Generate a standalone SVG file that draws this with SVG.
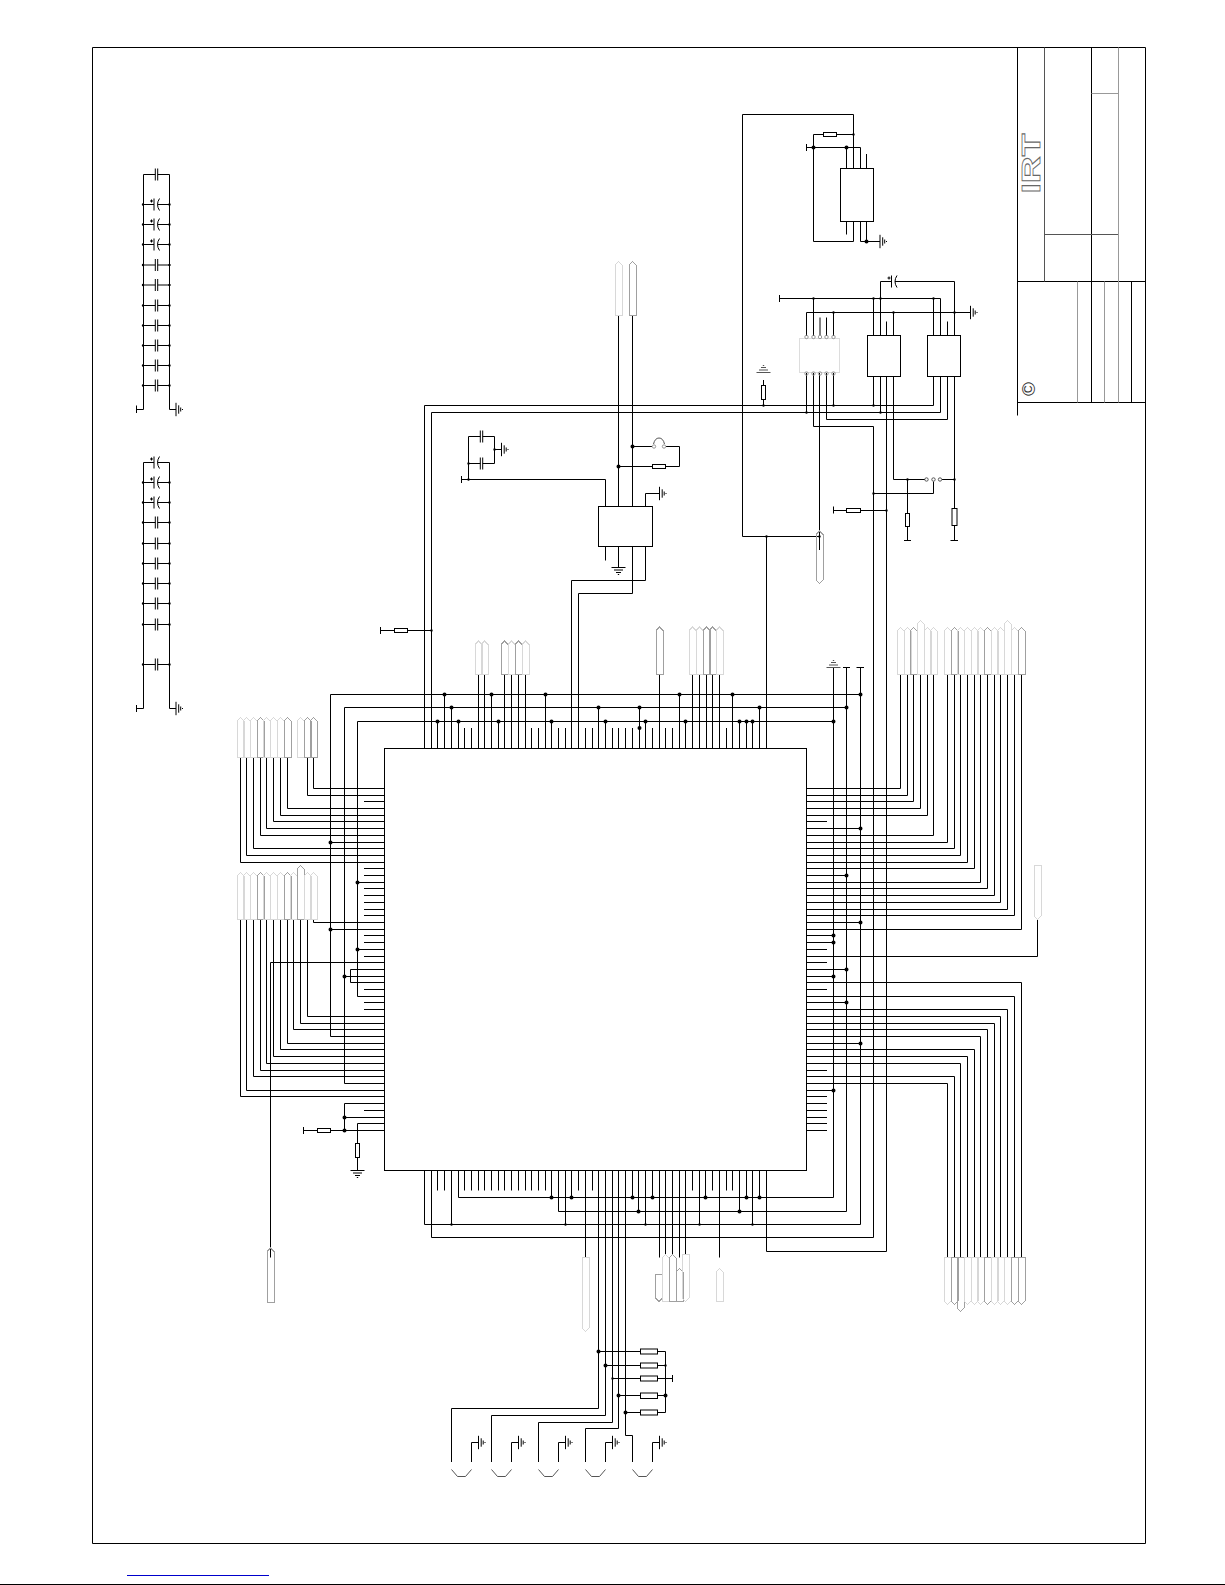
<svg xmlns="http://www.w3.org/2000/svg" width="1225" height="1585" viewBox="0 0 1225 1585">
<style>
.w,.s{fill:none;stroke:#000;stroke-width:1}
.g1{fill:none;stroke:#999;stroke-width:1}
.g2{fill:none;stroke:#555;stroke-width:1}
.r{fill:#fff;stroke:#000;stroke-width:1}
.c1{fill:none;stroke:#d8d8d8;stroke-width:1;shape-rendering:crispEdges}
.c2{fill:none;stroke:#a0a0a0;stroke-width:1;shape-rendering:crispEdges}
.big{fill:none;stroke:#000;stroke-width:4;stroke-linecap:round}
.sm{fill:none;stroke:#000;stroke-width:2.4;stroke-linecap:round}
.ic{fill:none;stroke:#000;stroke-width:1}
.ch{fill:none;stroke:#555;stroke-width:1}
</style>
<defs>
<path id="gs" class="s" d="M0-6.7V6.7M2.7-4.2V4.2M4.7-2V2M6.5-.5V.5"/>
<path id="gd" class="s" d="M-7 0H7M-4.5 2.5H4.5M-2.5 5H2.5M-.7 7H.7"/>
<path id="gu" class="g2" d="M-7 0H7M-4.5-2.5H4.5M-2.5-5H2.5M-.7-7H.7"/>
<path id="cp" class="s" d="M-13 0H-1.2M1.2 0H13M-1.2-6V6M1.2-6V6"/>
<path id="cpp" class="s" d="M-13 0H-2.5M1 0H13M-2.5-6V6M3-6Q-1 0 3 6M-6.5-3.5H-3.5M-5-5V-2"/>
<path id="p27" d="M-3.5 0V-23.5L0-27L3.5-23.5V0Z"/>
<path id="p33" d="M-3.5 0V-29.5L0-33L3.5-29.5V0Z"/>
<path id="p40" d="M-3.5 0V-36.5L0-40L3.5-36.5V0Z"/>
<path id="p47" d="M-3.5 0V-43.5L0-47L3.5-43.5V0Z"/>
<path id="p54" d="M-3.5 0V-50.5L0-54L3.5-50.5V0Z"/>
<path id="p74" d="M-3.5 0V-70.5L0-74L3.5-70.5V0Z"/>
<path id="chev" class="ch" d="M0 0L6 7H14L20 0"/>
</defs>

<path id="frame" class="w" d="M92.5 47.5H1145.5V1543.5H92.5Z"/>
<path class="w" d="M0 1584.5H1225"/>
<path d="M127 1575.5H269" fill="none" stroke="#0000cc" stroke-width="1"/>

<g id="title-block">
<path class="w" d="M1017.5 47.5V415.5M1017.5 281.5H1145.5M1017.5 402.5H1145.5M1091.5 47.5V402.5M1131.5 281.5V402.5"/>
<path class="g2" d="M1044.5 47.5V281.5M1044.5 234.5H1118.5"/>
<path class="g1" d="M1118.5 47.5V402.5M1091.5 93.5H1118.5M1077.5 281.5V402.5M1104.5 281.5V402.5"/>
<g opacity=".99">
<text transform="translate(1040,193.5) rotate(-90)" font-family="'Liberation Sans',sans-serif" font-weight="bold" font-size="25" textLength="60" lengthAdjust="spacingAndGlyphs" fill="#fff" stroke="#666" stroke-width=".8">IRT</text>
<text transform="translate(1028,389) rotate(-90)" y="6.5" text-anchor="middle" font-family="'Liberation Sans',sans-serif" font-size="19" fill="#333">©</text>
</g>
</g>

<g id="connectors">
<path class="w" d="M424.5 748.5V405.5H933.5V376.5M431.5 748.5V412.5H940.5V376.5M437.5 748.5V721.5M444.5 748.5V694.5M451.5 748.5V707.5M458.5 748.5V721.5M464.5 748.5V728M471.5 748.5V728M478.5 748.5V674M484.5 748.5V674M491.5 748.5V694.5M498.5 748.5V721.5M504.5 748.5V674M511.5 748.5V674M518.5 748.5V674M525.5 748.5V674M531.5 748.5V728M538.5 748.5V728M545.5 748.5V694.5M551.5 748.5V721.5M558.5 748.5V728M565.5 748.5V728M571.5 748.5V580.5H645.5V546.5M578.5 748.5V593.5H632.5V546.5M585.5 748.5V728M592.5 748.5V728M598.5 748.5V707.5M605.5 748.5V721.5M612.5 748.5V728M618.5 748.5V728M625.5 748.5V728M632.5 748.5V728M639.5 748.5V707.5M645.5 748.5V721.5M652.5 748.5V728M659.5 748.5V674M665.5 748.5V728M672.5 748.5V728M679.5 748.5V694.5M685.5 748.5V721.5M692.5 748.5V674M699.5 748.5V674M706.5 748.5V674M712.5 748.5V674M719.5 748.5V674M726.5 748.5V728M732.5 748.5V694.5M739.5 748.5V721.5M746.5 748.5V721.5M752.5 748.5V721.5M759.5 748.5V707.5M766.5 748.5V536.5"/>
<path class="w" d="M330.5 1036.5V694.5H860.5M344.5 1083.5V707.5H846.5M357.5 996.5V721.5H833.5M833.5 667.5V1197.5H458.5V1170.5M846.5 667.5V1211.5H558.5V1170.5M860.5 667.5V1224.5H424.5V1170.5M813.5 373V426.5H873.5V1237.5H431.5V1170.5M886.5 376.5V1251.5H766.5V1170.5M843 667.5H850M856.5 667.5H864"/>
<path class="w" d="M384.5 788.5H313.5V757.5M384.5 795.5H307.5V757.5M384.5 801.5H364M384.5 808.5H287.5V757.5M384.5 815.5H280.5V757.5M384.5 821.5H273.5V757.5M384.5 828.5H266.5V757.5M384.5 835.5H260.5V757.5M384.5 842.5H330.5M384.5 848.5H253.5V757.5M384.5 855.5H246.5V757.5M384.5 862.5H240.5V757.5M384.5 868.5H364M384.5 875.5H364M384.5 882.5H357.5M384.5 888.5H364M384.5 895.5H364M384.5 902.5H364M384.5 909.5H364M384.5 915.5H364M384.5 922.5H313.5V919.5M384.5 929.5H330.5M384.5 935.5H364M384.5 942.5H364M384.5 949.5H357.5M384.5 956.5H364M384.5 962.5H270.5V1257.5M384.5 969.5H350.5V982.5H384.5M384.5 976.5H344.5M384.5 989.5H364M384.5 996.5H357.5M384.5 1002.5H364M384.5 1009.5H364M384.5 1016.5H307.5V919.5M384.5 1023.5H300.5V919.5M384.5 1029.5H293.5V919.5M384.5 1036.5H330.5M384.5 1043.5H287.5V919.5M384.5 1049.5H280.5V919.5M384.5 1056.5H273.5V919.5M384.5 1063.5H266.5V919.5M384.5 1070.5H260.5V919.5M384.5 1076.5H253.5V919.5M384.5 1083.5H344.5M384.5 1090.5H246.5V919.5M384.5 1096.5H240.5V919.5M384.5 1103.5H344.5V1130.5M384.5 1110.5H364M384.5 1117.5H344.5M384.5 1123.5H357.5V1170.5M384.5 1130.5H303.5M303.5 1127V1134"/>
<path class="w" d="M806.5 788.5H900.5V674.5M806.5 795.5H907.5V674.5M806.5 801.5H913.5V674.5M806.5 808.5H920.5V674.5M806.5 815.5H927.5V674.5M806.5 821.5H827M806.5 828.5H860.5M806.5 835.5H933.5V674.5M806.5 842.5H947.5V674.5M806.5 848.5H954.5V674.5M806.5 855.5H960.5V674.5M806.5 862.5H967.5V674.5M806.5 868.5H974.5V674.5M806.5 875.5H846.5M806.5 882.5H980.5V674.5M806.5 888.5H987.5V674.5M806.5 895.5H994.5V674.5M806.5 902.5H1000.5V674.5M806.5 909.5H1007.5V674.5M806.5 915.5H1014.5V674.5M806.5 922.5H860.5M806.5 929.5H1021.5V674.5M806.5 935.5H833.5M806.5 942.5H833.5M806.5 949.5H827M806.5 956.5H1037.5V919M806.5 962.5H827M806.5 969.5H846.5M806.5 976.5H833.5M806.5 982.5H1021.5V1257.5M806.5 989.5H827M806.5 996.5H1014.5V1257.5M806.5 1002.5H846.5M806.5 1009.5H1007.5V1257.5M806.5 1016.5H1000.5V1257.5M806.5 1023.5H994.5V1257.5M806.5 1029.5H987.5V1257.5M806.5 1036.5H980.5V1257.5M806.5 1043.5H860.5M806.5 1049.5H974.5V1257.5M806.5 1056.5H967.5V1257.5M806.5 1063.5H960.5V1257.5M806.5 1070.5H827M806.5 1076.5H954.5V1257.5M806.5 1083.5H947.5V1257.5M806.5 1090.5H833.5M806.5 1096.5H827M806.5 1103.5H827M806.5 1110.5H827M806.5 1117.5H827M806.5 1123.5H827M806.5 1130.5H827"/>
<path class="w" d="M437.5 1170.5V1190.5M444.5 1170.5V1190.5M451.5 1170.5V1224.5M464.5 1170.5V1190.5M471.5 1170.5V1190.5M478.5 1170.5V1190.5M484.5 1170.5V1190.5M491.5 1170.5V1190.5M498.5 1170.5V1190.5M504.5 1170.5V1190.5M511.5 1170.5V1190.5M518.5 1170.5V1190.5M525.5 1170.5V1190.5M531.5 1170.5V1190.5M538.5 1170.5V1190.5M545.5 1170.5V1190.5M551.5 1170.5V1197.5M565.5 1170.5V1224.5M571.5 1170.5V1197.5M578.5 1170.5V1190.5M585.5 1170.5V1257.5M592.5 1170.5V1190.5M632.5 1170.5V1197.5M638.5 1170.5V1211.5M645.5 1170.5V1224.5M652.5 1170.5V1197.5M659.5 1170.5V1257.5M665.5 1170.5V1254.5M672.5 1170.5V1254.5M679.5 1170.5V1257.5M685.5 1170.5V1254.5M692.5 1170.5V1190.5M699.5 1170.5V1224.5M705.5 1170.5V1197.5M712.5 1170.5V1190.5M719.5 1170.5V1257.5M726.5 1170.5V1190.5M732.5 1170.5V1190.5M739.5 1170.5V1211.5M746.5 1170.5V1197.5M752.5 1170.5V1224.5M759.5 1170.5V1197.5"/>
<path class="w" d="M598.5 1170.5V1408.5H451.5V1462M605.5 1170.5V1415.5H491.5V1462M612.5 1170.5V1422.5H538.5V1462M618.5 1170.5V1428.5H585.5V1462M625.5 1170.5V1435.5H632.5V1462M471.5 1462V1442.5H478.5M511.5 1462V1442.5H518.5M558.5 1462V1442.5H565.5M605.5 1462V1442.5H612.5M652.5 1462V1442.5H659.5M598.5 1351.5H665.5M605.5 1365.5H665.5M612.5 1378.5H672.5M618.5 1395.5H665.5M625.5 1412.5H665.5M665.5 1351.5V1412.5M672.5 1375V1382"/>
<path class="w" d="M618.5 315.5V506.5M632.5 315.5V506.5M605.5 506.5V479.5H461.5M461.5 476V483M645.5 506.5V493.5H659.5M605.5 546.5V560.5M618.5 546.5V567M632.5 446.5H652M666 446.5H679.5V466.5H618.5M468.5 479.5V436.5M494.5 436.5V463.5M494.5 449.5H501.5M380.5 627V634M380.5 630.5H431.5"/>
<path class="w" d="M742.5 536.5V114.5H853.5V168.5M742.5 536.5H819.5M813.5 134.5H853.5M813.5 134.5V241.5H853.5V221.5M806.5 147.5H860.5V168.5M846.5 147.5V168.5M866.5 154V168.5M846.5 221.5V234.5M860.5 221.5V241.5H880M866.5 221.5V241.5M806.5 144V151M779.5 298.5H940.5V335.5M779.5 295V302M806.5 336V312.5H970M813.5 298.5V336M820 317.5V336M826.5 317.5V336M833.5 312.5V336M873.5 298.5V335.5M880.5 335.5V281.5H887M906 281.5H954.5V335.5M886.5 321.5V335.5M893.5 312.5V335.5M933.5 298.5V335.5M947.5 321.5V335.5M806.5 373V412.5M826.5 373V419.5H947.5V376.5M833.5 373V405.5M819.5 373V550M873.5 376.5V405.5M880.5 376.5V412.5M893.5 376.5V479.5H925M942 479.5H954.5M954.5 376.5V508.5M954.5 525.5V540.5M950.5 540.5H958M907.5 479.5V540.5M904 540.5H911M873.5 493.5H933.5V481.5M833.5 506.5V513.5M833.5 510.5H886.5M763.5 380V405.5"/>
<path class="big" d="M444.5 694.5h.01M491.5 694.5h.01M545.5 694.5h.01M679.5 694.5h.01M732.5 694.5h.01M451.5 707.5h.01M598.5 707.5h.01M639.5 707.5h.01M759.5 707.5h.01M437.5 721.5h.01M458.5 721.5h.01M498.5 721.5h.01M551.5 721.5h.01M605.5 721.5h.01M645.5 721.5h.01M685.5 721.5h.01M739.5 721.5h.01M746.5 721.5h.01M752.5 721.5h.01M639.5 728h.01M860.5 694.5h.01M846.5 707.5h.01M833.5 721.5h.01M330.5 842.5h.01M357.5 882.5h.01M330.5 929.5h.01M357.5 949.5h.01M344.5 976.5h.01M344.5 1117.5h.01M344.5 1130.5h.01M860.5 828.5h.01M846.5 875.5h.01M860.5 922.5h.01M833.5 935.5h.01M833.5 942.5h.01M846.5 969.5h.01M833.5 976.5h.01M846.5 1002.5h.01M860.5 1043.5h.01M833.5 1090.5h.01M551.5 1197.5h.01M571.5 1197.5h.01M632.5 1197.5h.01M652.5 1197.5h.01M705.5 1197.5h.01M746.5 1197.5h.01M759.5 1197.5h.01M638.5 1211.5h.01M739.5 1211.5h.01M598.5 1351.5h.01M605.5 1365.5h.01M618.5 1395.5h.01M625.5 1412.5h.01M665.5 1395.5h.01M632.5 446.5h.01M618.5 466.5h.01M813.5 147.5h.01M846.5 147.5h.01M866.5 241.5h.01"/>
<path class="sm" d="M451.5 1224.5h.01M565.5 1224.5h.01M645.5 1224.5h.01M699.5 1224.5h.01M752.5 1224.5h.01M612.5 1378.5h.01M665.5 1365.5h.01M468.5 479.5h.01M468.5 463.5h.01M494.5 449.5h.01M431.5 630.5h.01M766.5 536.5h.01M853.5 134.5h.01M813.5 298.5h.01M873.5 298.5h.01M880.5 298.5h.01M933.5 298.5h.01M833.5 312.5h.01M893.5 312.5h.01M954.5 312.5h.01M763.5 405.5h.01M833.5 405.5h.01M873.5 405.5h.01M806.5 412.5h.01M880.5 412.5h.01M907.5 479.5h.01M954.5 479.5h.01M873.5 493.5h.01M886.5 510.5h.01M819.5 536.5h.01M143 204.5h.01M143 224.5h.01M143 244.5h.01M143 265h.01M143 285h.01M143 305.5h.01M143 325.5h.01M143 345.5h.01M143 365.5h.01M143 385.5h.01M169.5 204.5h.01M169.5 224.5h.01M169.5 244.5h.01M169.5 265h.01M169.5 285h.01M169.5 305.5h.01M169.5 325.5h.01M169.5 345.5h.01M169.5 365.5h.01M169.5 385.5h.01M143 482.5h.01M143 502.5h.01M143 522.5h.01M143 543.5h.01M143 563.5h.01M143 583.5h.01M143 603.5h.01M143 624.5h.01M143 664.5h.01M169.5 482.5h.01M169.5 502.5h.01M169.5 522.5h.01M169.5 543.5h.01M169.5 563.5h.01M169.5 583.5h.01M169.5 603.5h.01M169.5 624.5h.01M169.5 664.5h.01"/>
</g>

<g id="decoupling-a">
<path class="w" d="M143.5 174.5V409.5H136.5M136.5 405.5V413M169.5 174.5V409.5H176"/>
<use href="#cp" x="156.5" y="174.5"/><use href="#cpp" x="156.5" y="204.5"/><use href="#cpp" x="156.5" y="224.5"/><use href="#cpp" x="156.5" y="244.5"/><use href="#cp" x="156.5" y="265"/><use href="#cp" x="156.5" y="285"/><use href="#cp" x="156.5" y="305.5"/><use href="#cp" x="156.5" y="325.5"/><use href="#cp" x="156.5" y="345.5"/><use href="#cp" x="156.5" y="365.5"/><use href="#cp" x="156.5" y="385.5"/>
<use href="#gs" x="176" y="409.5"/>
</g>
<g id="decoupling-b">
<path class="w" d="M143.5 462.5V708.5H136.5M136.5 705V712M169.5 462.5V708.5H176"/>
<use href="#cpp" x="156.5" y="462.5"/><use href="#cpp" x="156.5" y="482.5"/><use href="#cpp" x="156.5" y="502.5"/><use href="#cp" x="156.5" y="522.5"/><use href="#cp" x="156.5" y="543.5"/><use href="#cp" x="156.5" y="563.5"/><use href="#cp" x="156.5" y="583.5"/><use href="#cp" x="156.5" y="603.5"/><use href="#cp" x="156.5" y="624.5"/><use href="#cp" x="156.5" y="664.5"/>
<use href="#gs" x="176" y="708.5"/>
</g>

<g id="U1"><rect class="ic" x="384.5" y="748.5" width="422" height="422"/></g>

<g id="U2">
<rect class="r" x="598.5" y="506.5" width="54" height="40"/>
<use href="#gd" x="618.5" y="567.5"/>
<use href="#gs" x="659.5" y="493.5"/>
<rect class="r" x="652.5" y="464.5" width="13" height="4"/>
<circle class="g1" cx="654" cy="446.5" r="1.7"/><circle class="g1" cx="664" cy="446.5" r="1.7"/>
<path class="g2" d="M653.5 444Q655 438 659 438Q663 438 664.5 444"/>
<use href="#cp" x="481.5" y="436.5"/><use href="#cp" x="481.5" y="463.5"/>
<use href="#gs" x="501.5" y="449.5"/>
</g>

<g id="U3">
<rect class="r" x="840.5" y="168.5" width="33" height="53"/>
<rect class="r" x="823.5" y="132.5" width="13" height="4"/>
<use href="#gs" x="880" y="241.5"/>
</g>
<g id="U4">
<rect fill="#fff" stroke="#ddd" x="799.5" y="338.5" width="40" height="34"/>
<g class="g1"><circle cx="806.5" cy="337" r="1.7"/><circle cx="813.5" cy="337" r="1.7"/><circle cx="820" cy="337" r="1.7"/><circle cx="826.5" cy="337" r="1.7"/><circle cx="833.5" cy="337" r="1.7"/><circle cx="806.5" cy="373.5" r="1.7"/><circle cx="813.5" cy="373.5" r="1.7"/><circle cx="820" cy="373.5" r="1.7"/><circle cx="826.5" cy="373.5" r="1.7"/><circle cx="833.5" cy="373.5" r="1.7"/></g>
</g>
<g id="U5"><rect class="r" x="867.5" y="335.5" width="33" height="41"/></g>
<g id="U6"><rect class="r" x="927.5" y="335.5" width="33" height="41"/></g>
<g id="regulator-parts">
<use href="#cpp" x="894" y="281.5"/>
<use href="#gs" x="970.5" y="312.5"/>
<rect class="r" x="761.5" y="385.5" width="4" height="14"/>
<use href="#gu" x="763.5" y="372.5"/>
<rect class="r" x="846.5" y="508.5" width="14" height="4"/>
<rect class="r" x="905.5" y="513.5" width="4" height="13"/>
<rect class="r" x="952" y="508.5" width="5" height="17"/>
<g class="g2"><circle cx="926.5" cy="479.5" r="1.7"/><circle cx="933.5" cy="479.5" r="1.7"/><circle cx="940" cy="479.5" r="1.7"/></g>
</g>

<g id="rail-grounds"><use href="#gu" x="833.5" y="667.5"/></g>
<g id="pull-ups">
<rect class="r" x="394.5" y="628.5" width="13" height="4"/>
<rect class="r" x="317.5" y="1128.5" width="13" height="4"/>
<rect class="r" x="355.5" y="1143.5" width="4" height="14"/>
<use href="#gd" x="357.5" y="1170.5"/>
</g>
<g id="termination">
<rect class="r" x="640.5" y="1349" width="17" height="5"/><rect class="r" x="640.5" y="1363" width="17" height="5"/><rect class="r" x="640.5" y="1376" width="17" height="5"/><rect class="r" x="640.5" y="1393" width="17" height="5.5"/><rect class="r" x="640.5" y="1410" width="17" height="5"/>
<use href="#gs" x="478.5" y="1442.5"/><use href="#gs" x="518.5" y="1442.5"/><use href="#gs" x="565.5" y="1442.5"/><use href="#gs" x="612.5" y="1442.5"/><use href="#gs" x="659.5" y="1442.5"/>
<use href="#chev" x="451.5" y="1469.5"/><use href="#chev" x="491.5" y="1469.5"/><use href="#chev" x="538.5" y="1469.5"/><use href="#chev" x="585.5" y="1469.5"/><use href="#chev" x="632.5" y="1469.5"/>
</g>

<g id="ports-left-upper">
<use href="#p40" class="c1" x="240.5" y="757.5"/><use href="#p40" class="c1" x="246.5" y="757.5"/><use href="#p40" class="c1" x="253.5" y="757.5"/><use href="#p40" class="c2" x="260.5" y="757.5"/><use href="#p40" class="c1" x="266.5" y="757.5"/><use href="#p40" class="c1" x="273.5" y="757.5"/><use href="#p40" class="c1" x="280.5" y="757.5"/><use href="#p40" class="c2" x="287.5" y="757.5"/><use href="#p40" class="c1" x="300.5" y="757.5"/><use href="#p40" class="c2" x="307.5" y="757.5"/><use href="#p40" class="c2" x="313.5" y="757.5"/>
</g>
<g id="ports-left-lower">
<use href="#p47" class="c1" x="240.5" y="919.5"/><use href="#p47" class="c1" x="246.5" y="919.5"/><use href="#p47" class="c1" x="253.5" y="919.5"/><use href="#p47" class="c2" x="260.5" y="919.5"/><use href="#p47" class="c1" x="266.5" y="919.5"/><use href="#p47" class="c1" x="273.5" y="919.5"/><use href="#p47" class="c1" x="280.5" y="919.5"/><use href="#p47" class="c2" x="287.5" y="919.5"/><use href="#p47" class="c1" x="293.5" y="919.5"/><use href="#p54" class="c2" x="300.5" y="919.5"/><use href="#p47" class="c1" x="307.5" y="919.5"/><use href="#p47" class="c1" x="313.5" y="919.5"/>
<use href="#p54" class="c2" x="270.5" y="1302"/>
</g>
<g id="ports-top">
<use href="#p54" class="c1" x="618.5" y="315.5"/><use href="#p54" class="c2" x="632.5" y="315.5"/>
<use href="#p33" class="c1" x="478.5" y="674"/><use href="#p33" class="c1" x="484.5" y="674"/>
<use href="#p33" class="c2" x="504.5" y="674"/><use href="#p33" class="c1" x="511.5" y="674"/><use href="#p33" class="c2" x="518.5" y="674"/><use href="#p33" class="c1" x="525.5" y="674"/>
<use href="#p47" class="c2" x="659.5" y="674"/>
<use href="#p47" class="c1" x="692.5" y="674"/><use href="#p47" class="c1" x="699.5" y="674"/><use href="#p47" class="c2" x="706.5" y="674"/><use href="#p47" class="c2" x="712.5" y="674"/><use href="#p47" class="c1" x="719.5" y="674"/>
<path class="c2" d="M816 534.5L819.5 531L823 534.5V580L819.5 583.5L816 580Z"/>
</g>
<g id="ports-right-upper">
<use href="#p47" class="c1" x="900.5" y="674.5"/><use href="#p47" class="c1" x="907.5" y="674.5"/><use href="#p47" class="c2" x="913.5" y="674.5"/><use href="#p54" class="c1" x="920.5" y="674.5"/><use href="#p47" class="c1" x="927.5" y="674.5"/><use href="#p47" class="c1" x="933.5" y="674.5"/>
<use href="#p47" class="c1" x="947.5" y="674.5"/><use href="#p47" class="c2" x="954.5" y="674.5"/><use href="#p47" class="c1" x="960.5" y="674.5"/><use href="#p47" class="c1" x="967.5" y="674.5"/><use href="#p47" class="c1" x="974.5" y="674.5"/><use href="#p47" class="c1" x="980.5" y="674.5"/><use href="#p47" class="c2" x="987.5" y="674.5"/><use href="#p47" class="c1" x="994.5" y="674.5"/><use href="#p47" class="c1" x="1000.5" y="674.5"/><use href="#p54" class="c1" x="1007.5" y="674.5"/><use href="#p47" class="c1" x="1014.5" y="674.5"/><use href="#p47" class="c2" x="1021.5" y="674.5"/>
</g>
<g id="ports-right-lower">
<use href="#p54" class="c1" transform="translate(1037.5,865.5) scale(1,-1)"/>
<g class="c1" transform="translate(0,1257.5) scale(1,-1)">
<use href="#p47" x="947.5" y="0"/><use href="#p47" class="c2" x="954.5" y="0"/><use href="#p54" class="c2" x="960.5" y="0"/><use href="#p47" x="967.5" y="0"/><use href="#p47" x="974.5" y="0"/><use href="#p47" x="980.5" y="0"/><use href="#p47" class="c2" x="987.5" y="0"/><use href="#p47" x="994.5" y="0"/><use href="#p47" x="1000.5" y="0"/><use href="#p47" x="1007.5" y="0"/><use href="#p47" class="c2" x="1014.5" y="0"/><use href="#p47" class="c2" x="1021.5" y="0"/>
</g>
</g>
<g id="ports-bottom">
<use href="#p74" class="c1" transform="translate(585.5,1257.5) scale(1,-1)"/>
<use href="#p27" class="c2" transform="translate(659,1274.5) scale(1,-1)"/>
<use href="#p47" class="c1" x="665.5" y="1301.5"/><use href="#p47" class="c2" x="672.5" y="1301.5"/><use href="#p33" class="c2" x="679.5" y="1301.5"/>
<use href="#p47" class="c1" transform="translate(685.5,1254.5) scale(1,-1)"/>
<use href="#p33" class="c1" x="719.5" y="1301.5"/>
</g>
</svg>
